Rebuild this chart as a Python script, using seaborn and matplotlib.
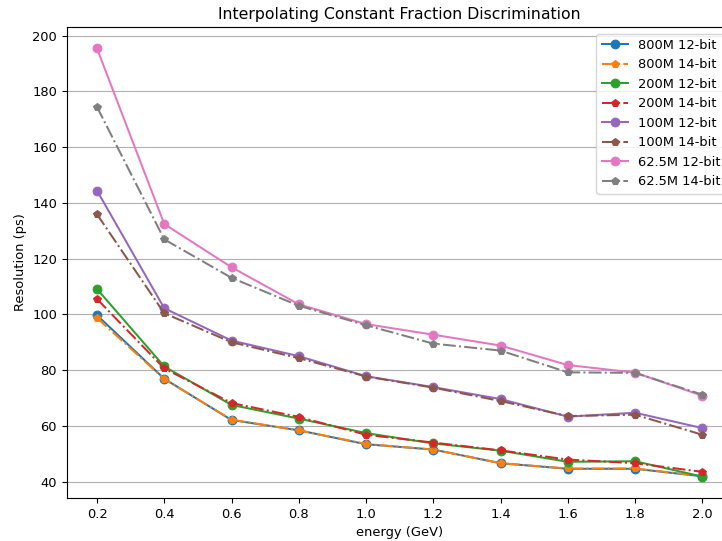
import matplotlib
matplotlib.use("Agg")
import matplotlib.pyplot as plt
import seaborn as sns

energy = [0.2, 0.4, 0.6, 0.8, 1.0, 1.2, 1.4, 1.6, 1.8, 2.0]

s800_12 = [99.7, 76.9, 62.1, 58.4, 53.4, 51.5, 46.6, 44.6, 44.6, 41.9]
s800_14 = [98.7, 76.8, 62.2, 58.4, 53.5, 51.5, 46.6, 44.7, 44.7, 42.0]
s200_12 = [109.1, 81.3, 67.5, 62.6, 57.4, 53.7, 51.1, 47.1, 47.3, 41.8]
s200_14 = [105.5, 80.6, 68.2, 63.2, 56.8, 54.0, 51.2, 47.9, 46.6, 43.5]
s100_12 = [144.4, 102.2, 90.6, 85.0, 77.8, 73.9, 69.6, 63.3, 64.7, 59.2]
s100_14 = [135.9, 100.4, 90.0, 84.3, 77.7, 73.7, 68.9, 63.5, 64.0, 56.8]
s625_12 = [195.4, 132.4, 116.9, 103.6, 96.5, 92.7, 88.8, 81.8, 79.1, 70.8]
s625_14 = [174.4, 126.9, 113.1, 103.1, 96.1, 89.5, 87.0, 79.2, 79.0, 71.2]

labels = ["800M 12-bit", "800M 14-bit", "200M 12-bit", "200M 14-bit",
          "100M 12-bit", "100M 14-bit", "62.5M 12-bit", "62.5M 14-bit"]
series = [s800_12, s800_14, s200_12, s200_14, s100_12, s100_14, s625_12, s625_14]

title = "Interpolating Constant Fraction Discrimination"
xlabel = "energy (GeV)"
ylabel = "Resolution (ps)"

plt.rcParams["font.size"] = 9.4

fig = plt.figure(figsize=(7.22, 5.41), dpi=100)
ax = fig.add_axes([0.0924, 0.0795, 0.9223, 0.8706])

colors = sns.color_palette("tab10", 8)
for i, (lab, vals) in enumerate(zip(labels, series)):
    is14 = (i % 2 == 1)
    sns.lineplot(x=energy, y=vals, ax=ax, color=colors[i], label=lab,
                 marker="p" if is14 else "o",
                 markersize=5.3 if is14 else 6.3,
                 markeredgecolor=colors[i],
                 linestyle="-." if is14 else "-",
                 linewidth=1.45)

ax.set_xticks(energy)
ax.set_xticklabels([f"{e:.1f}" for e in energy])
ax.tick_params(labelsize=9.4)
ax.grid(axis="y", color="#b0b0b0", linewidth=0.8)
ax.set_axisbelow(True)
ax.set_title(title, fontsize=11.3)
ax.set_xlabel(xlabel, fontsize=9.4)
ax.set_ylabel(ylabel, fontsize=9.4)
ax.legend(loc="upper right", fontsize=9.4)

fig.savefig("out.png", dpi=100)
